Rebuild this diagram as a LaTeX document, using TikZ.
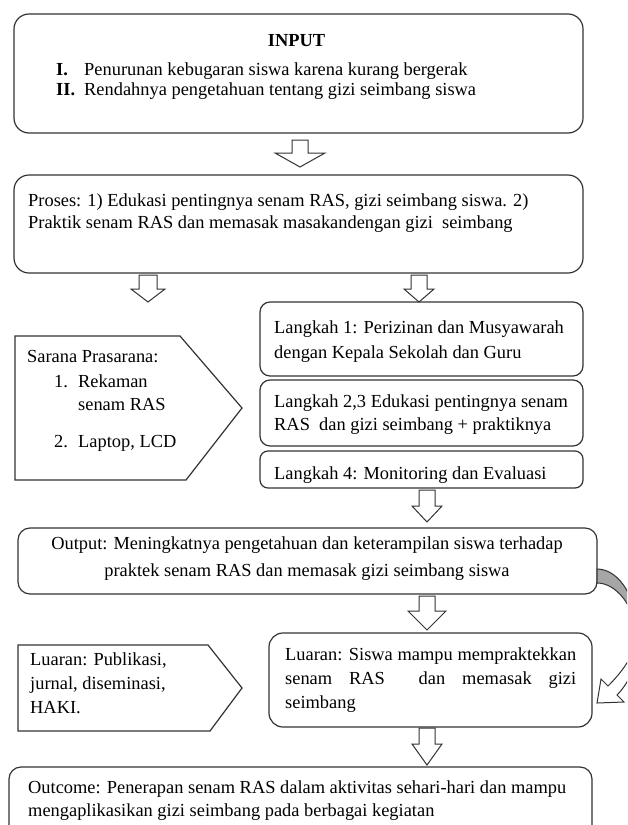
\documentclass[tikz,border=0pt]{standalone}
\usepackage{fontspec}
\setmainfont{Liberation Serif}
\newcommand{\blockarrow}[6]{% cx, ytop, ybase, ytip, shafthalf, headhalf
  \draw[barrow] ({#1-#5},#2) -- ({#1+#5},#2) -- ({#1+#5},#3) -- ({#1+#6},#3)
    -- (#1,#4) -- ({#1-#6},#3) -- ({#1-#5},#3) -- cycle;}
\begin{document}
\begin{tikzpicture}[x=1pt,y=-1pt,
  box/.style={rectangle, draw=black!80, line width=1.2pt, rounded corners=#1, inner sep=0pt},
  txt/.style={anchor=base west, inner sep=0pt, font=\fontsize{18.4}{22}\selectfont},
  ctxt/.style={anchor=base, inner sep=0pt, font=\fontsize{18.4}{22}\selectfont},
  barrow/.style={draw=black!80, line width=1pt, fill=white, line join=miter},
  penta/.style={draw=black!80, line width=1.2pt, fill=white, line join=miter},
]
\useasboundingbox (0,0) rectangle (627,825);
\clip (0,0) rectangle (627,825);

% ---------- boxes ----------
\node[box=15pt, minimum width=569pt, minimum height=119pt] (input) at (298.5,73.5) {};
\node[box=15pt, minimum width=569pt, minimum height=98pt] (proses) at (298.5,224) {};
\node[box=10pt, minimum width=323pt, minimum height=74pt] (lk1) at (421.5,339) {};
\node[box=10pt, minimum width=323pt, minimum height=66pt] (lk2) at (421.5,413) {};
\node[box=8pt, minimum width=323pt, minimum height=37pt] (lk4) at (421.5,469.5) {};
\node[box=12pt, minimum width=579pt, minimum height=66pt] (output) at (307.5,561) {};
\node[box=14pt, minimum width=323pt, minimum height=94pt] (luaran) at (430.5,680) {};
\node[box=12pt, minimum width=583pt, minimum height=83pt] (outcome) at (300.5,808.5) {};

% ---------- pentagons ----------
\draw[penta] (15,336) -- (180,336) -- (242,408) -- (186,480) -- (15,480) -- cycle;
\draw[penta] (18,645) -- (208,645) -- (242,688) -- (210,731) -- (18,731) -- cycle;

% ---------- block arrows ----------
\blockarrow{300}{140}{153}{167}{8}{25}
\blockarrow{148}{275}{289}{302}{9}{17}
\blockarrow{419}{275}{289}{302}{8}{15}
\blockarrow{427}{490}{506}{522}{8}{15}
\blockarrow{427}{596}{611}{630}{8}{19}
\blockarrow{427}{728}{744}{765}{8}{15}

% ---------- curved arrow ----------
\filldraw[draw=black!80, line width=1pt, fill=black!35]
  (597,569) .. controls (620,569) and (638,600) .. (638,636)
  .. controls (634,605) and (616,583) .. (597,583) -- cycle;
\filldraw[draw=black!80, line width=1pt, fill=white, line join=miter]
  (638,636) .. controls (638,662) and (630,682) .. (617,695)
  -- (624,702) -- (597,703) -- (601,679) -- (608,686)
  .. controls (622,672) and (634,656) .. (638,636) -- cycle;

% ---------- texts ----------
\node[ctxt, font=\fontsize{18.4}{22}\selectfont\bfseries] (tin) at (296.5,46) {INPUT};
\node[txt, font=\fontsize{18.4}{22}\selectfont\bfseries] (ti1) at (56,75) {I.};
\node[txt] (tin1) at (84,75) {Penurunan kebugaran siswa karena kurang bergerak};
\node[txt, font=\fontsize{18.4}{22}\selectfont\bfseries] (ti2) at (56,95) {II.};
\node[txt] (tin2) at (84,95) {Rendahnya pengetahuan tentang gizi seimbang siswa};

\node[txt] (tp1) at (28,206) {Proses: 1) Edukasi pentingnya senam RAS, gizi seimbang siswa. 2)};
\node[txt] (tp2) at (28,228) {Praktik senam RAS dan memasak masakandengan gizi\ \ seimbang};

\node[txt] (ts0) at (27,362) {Sarana Prasarana:};
\node[txt] (ts1n) at (54,387) {1.};
\node[txt] (ts1) at (78,387) {Rekaman};
\node[txt] (ts1b) at (78,410) {senam RAS};
\node[txt] (ts2n) at (54,447) {2.};
\node[txt] (ts2) at (78,447) {Laptop, LCD};

\node[txt] (tl1a) at (274,333) {Langkah 1: Perizinan dan Musyawarah};
\node[txt] (tl1b) at (274,358) {dengan Kepala Sekolah dan Guru};
\node[txt] (tl2a) at (274,407) {Langkah 2,3 Edukasi pentingnya senam};
\node[txt] (tl2b) at (274,430) {RAS\ \ dan gizi seimbang + praktiknya};
\begin{scope}
  \clip (260,451) rectangle (583,482);
  \node[txt] (tl4) at (274,479) {Langkah 4: Monitoring dan Evaluasi};
\end{scope}

\node[ctxt] (to1) at (307,549) {Output: Meningkatnya pengetahuan dan keterampilan siswa terhadap};
\node[ctxt] (to2) at (307,576) {praktek senam RAS dan memasak gizi seimbang siswa};

\node[txt] (tr1) at (285,660) {\makebox[291pt][s]{Luaran: Siswa mampu mempraktekkan}};
\node[txt] (tr2) at (285,684) {\makebox[291pt][s]{senam RAS\ \ dan memasak gizi}};
\node[txt] (tr3) at (285,708) {seimbang};

\node[txt] (tq1) at (30,665) {Luaran: Publikasi,};
\node[txt] (tq2) at (30,689) {jurnal, diseminasi,};
\node[txt] (tq3) at (30,713) {HAKI.};

\node[txt] (tc1) at (28,793) {Outcome: Penerapan senam RAS dalam aktivitas sehari-hari dan mampu};
\node[txt] (tc2) at (28,816) {mengaplikasikan gizi seimbang pada berbagai kegiatan};
\end{tikzpicture}
\end{document}
